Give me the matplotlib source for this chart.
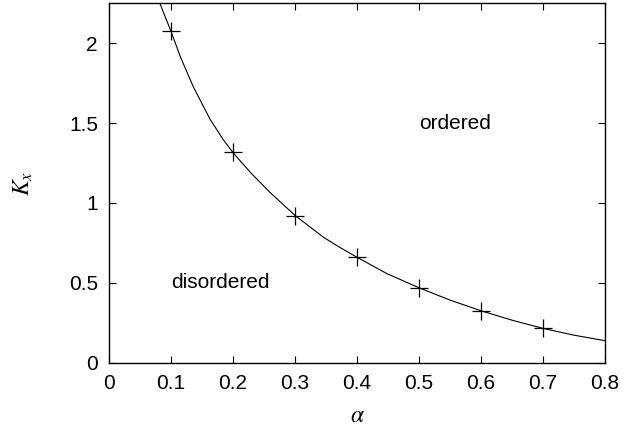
import numpy as np
import matplotlib
matplotlib.use("Agg")
import matplotlib.pyplot as plt

plt.rcParams['font.family'] = ['Liberation Sans', 'DejaVu Sans']
plt.rcParams['mathtext.fontset'] = 'stix'

# simulation points (alpha, K_x)
alpha_pts = [0.1, 0.2, 0.3, 0.4, 0.5, 0.6, 0.7]
kx_pts = [2.075, 1.318, 0.92, 0.66, 0.469, 0.325, 0.215]

# critical line
alpha_line = [0.082, 0.1, 0.115, 0.136, 0.163, 0.184, 0.2, 0.2274, 0.2597,
              0.3, 0.3456, 0.3726, 0.4, 0.448, 0.5, 0.55, 0.6, 0.652, 0.7,
              0.749, 0.8]
kx_line = [2.25, 2.074, 1.916, 1.727, 1.524, 1.398, 1.315, 1.194, 1.066,
           0.922, 0.786, 0.721, 0.66, 0.558, 0.469, 0.392, 0.325, 0.264,
           0.215, 0.173, 0.138]

fig = plt.figure(figsize=(6.39, 4.32), dpi=100)
ax = fig.add_axes([0.1706, 0.1604, 0.7762, 0.832])

ax.plot(alpha_line, kx_line, color='black', lw=0.8)
ax.plot(alpha_pts, kx_pts, linestyle='none', marker='+', color='black',
        markersize=12.5, markeredgewidth=0.9)

ax.text(0.1, 0.5, 'disordered', fontsize=15, ha='left', va='center')
ax.text(0.5, 1.5, 'ordered', fontsize=15, ha='left', va='center')

ax.set_xlim(0, 0.8)
ax.set_ylim(0, 2.25)
ax.set_xticks(np.arange(0, 0.81, 0.1))
ax.set_xticklabels(['0', '0.1', '0.2', '0.3', '0.4', '0.5', '0.6', '0.7', '0.8'])
ax.set_yticks([0, 0.5, 1, 1.5, 2])
ax.set_yticklabels(['0', '0.5', '1', '1.5', '2'])
ax.tick_params(direction='in', top=True, right=True, length=5, width=0.8,
               labelsize=15, pad=8)
for s in ax.spines.values():
    s.set_linewidth(1.0)

ax.set_xlabel(r'$\alpha$', fontsize=17, labelpad=9)
ax.set_ylabel(r'$K_x$', fontsize=17, labelpad=24)

fig.savefig('out.png', dpi=100)
